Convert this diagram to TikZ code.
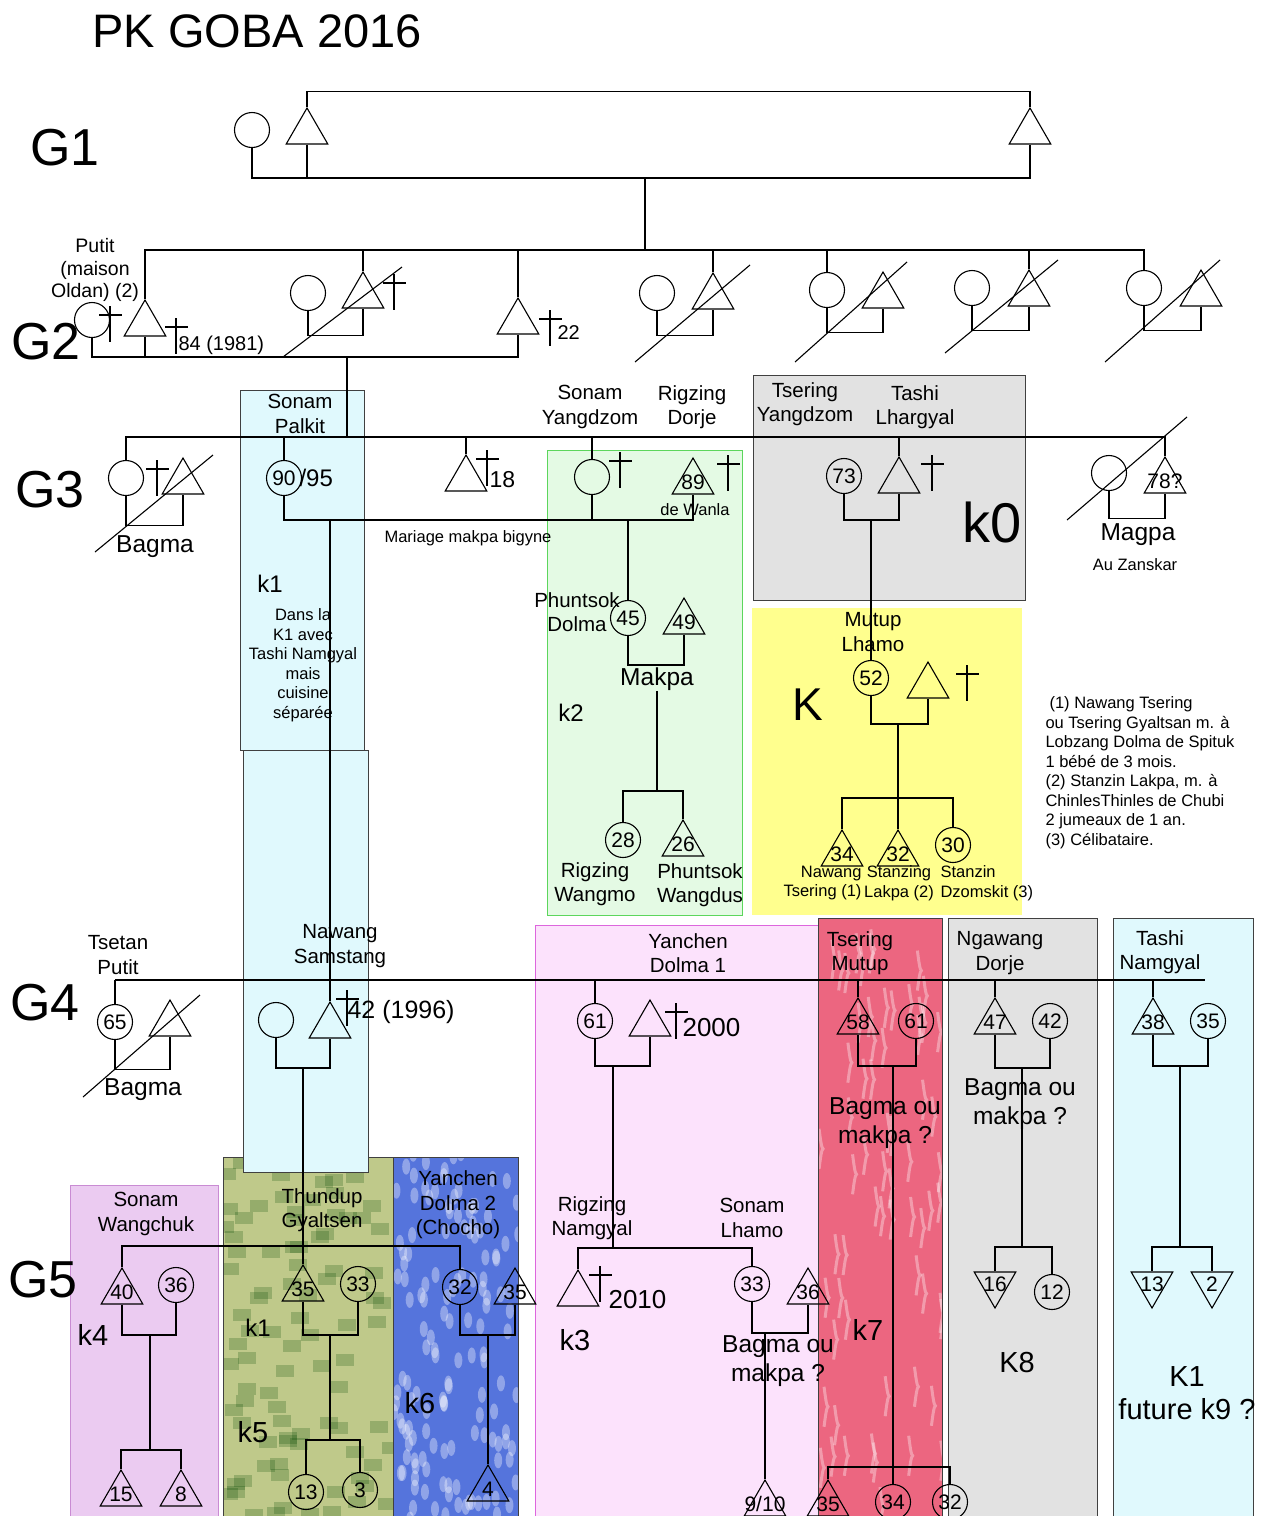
\documentclass[tikz,border=0pt]{standalone}
\usepackage{fontspec}
\setmainfont{Liberation Sans}
\usetikzlibrary{shapes.geometric}
\definecolor{cyanpale}{HTML}{E0F9FD}
\definecolor{vertpale}{HTML}{E4FAE4}
\definecolor{vertbord}{HTML}{5CD65C}
\definecolor{grispale}{HTML}{E2E2E2}
\definecolor{jaune}{HTML}{FFFF8E}
\definecolor{rosepale}{HTML}{FCE2FC}
\definecolor{rosebord}{HTML}{DD66DD}
\definecolor{lavande}{HTML}{EBCBF1}
\definecolor{lavbord}{HTML}{C98BD3}
\definecolor{rouge}{HTML}{EC6680}
\definecolor{kaki}{HTML}{BFC98A}
\definecolor{bleu}{HTML}{5574DC}
\newcommand{\nb}[1]{\makebox[0pt]{#1}}
\newcommand{\croix}[2]{\draw (#1,#2) -- ++(0,36) ++(-11,-27) -- ++(23,0);}
\begin{document}
\begin{tikzpicture}
[
    x=1pt, y=-1pt,
    line width=1.1pt,
    every node/.style={inner sep=0pt},
    femme/.style={draw, circle, minimum size=35pt, font=\fontsize{21}{21}\selectfont},
    homme/.style={draw, regular polygon, regular polygon sides=3, minimum size=48pt, font=\fontsize{21}{21}\selectfont},
    hommeinv/.style={homme, shape border rotate=180},
    nom/.style={align=center, font=\fontsize{20.5}{24.5}\selectfont},
    petit/.style={align=center, font=\fontsize{16.5}{19.5}\selectfont},
    moyen/.style={align=center, font=\fontsize{24.5}{29}\selectfont},
    maison/.style={align=center, font=\fontsize{29}{33}\selectfont},
    gen/.style={font=\fontsize{52}{56}\selectfont},
    boite/.style={draw=black!75, line width=1pt}
]
    \useasboundingbox (0,0) rectangle (1272,1516);
    \fill[white] (0,0) rectangle (1272,1516);
    \pgfmathsetseed{7}

    \draw[boite, fill=lavande, draw=lavbord] (70,1185) rectangle (218,1530);
    \fill[kaki] (223,1157) rectangle (393,1530);
    \begin{scope}
        \clip (223,1157) rectangle (393,1516);
        \foreach \i in {1,...,90} {
            \pgfmathsetmacro{\xa}{215+170*rnd}
            \pgfmathsetmacro{\ya}{1150+370*rnd}
            \fill[black!60!green!70!black, opacity=0.22] (\xa,\ya) rectangle ++(18,12);
        }
    \end{scope}
    \draw[boite] (223,1157) rectangle (393,1530);
    \fill[bleu] (393,1157) rectangle (518,1530);
    \begin{scope}
        \clip (393,1157) rectangle (518,1516);
        \foreach \i in {1,...,140} {
            \pgfmathsetmacro{\xa}{390+130*rnd}
            \pgfmathsetmacro{\ya}{1150+370*rnd}
            \fill[white, opacity=0.35] (\xa,\ya) ellipse (4pt and 8pt);
        }
    \end{scope}
    \draw[boite] (393,1157) rectangle (518,1530);
    \draw[boite, fill=cyanpale] (240,390) rectangle (364,750);
    \draw[boite, fill=cyanpale] (243,750) rectangle (368,1172);
    \draw[boite, fill=vertpale, draw=vertbord] (547,450) rectangle (742,915);
    \draw[boite, fill=grispale] (753,375) rectangle (1025,600);
    \fill[jaune] (752,608) rectangle (1022,915);
    \draw[boite, fill=rosepale, draw=rosebord] (535,925) rectangle (818,1530);
    \fill[rouge] (818,918) rectangle (942,1530);
    \begin{scope}
        \clip (818,918) rectangle (942,1516);
        \foreach \i in {1,...,70} {
            \pgfmathsetmacro{\xa}{812+134*rnd}
            \pgfmathsetmacro{\ya}{910+610*rnd}
            \draw[white, opacity=0.35, line width=3pt] (\xa,\ya) sin ++(4,20) cos ++(-4,20);
        }
    \end{scope}
    \draw[boite] (818,918) rectangle (942,1530);
    \draw[boite, fill=grispale] (948,918) rectangle (1097,1530);
    \draw[boite, fill=cyanpale] (1113,918) rectangle (1253,1530);

    \node[anchor=west, font=\fontsize{47}{50}\selectfont] (titre) at (92,31) {PK GOBA 2016};
    \node[gen] (gen1) at (65,148) {G1};
    \node[gen] (gen2) at (46,342) {G2};
    \node[gen] (gen3) at (50,490) {G3};
    \node[gen] (gen4) at (45,1003) {G4};
    \node[gen] (gen5) at (43,1280) {G5};

    \node[femme] (a1) at (252,130) {};
    \node[homme] (a2) at (307,132) {};
    \node[homme] (a3) at (1030,132) {};
    \coordinate (ma) at (645,178);
    \coordinate (sb) at (645,250);
    \draw (a2.north) -- ++(0,-15) -| (a3.north);
    \draw (a1.south) |- (ma) -| (a3.south);
    \draw (a2.south) -- (a2.south |- ma);
    \draw (ma) -- (sb);

    \node[femme] (b1) at (92,320) {};
    \node[homme] (b2) at (145,324) {};
    \node[femme] (b3) at (308,293) {};
    \node[homme] (b4) at (363,296) {};
    \node[homme] (b5) at (518,322) {};
    \node[femme] (b6) at (657,293) {};
    \node[homme] (b7) at (713,297) {};
    \node[femme] (b8) at (827,290) {};
    \node[homme] (b9) at (883,296) {};
    \node[femme] (b10) at (972,288) {};
    \node[homme] (b11) at (1029,294) {};
    \node[femme] (b12) at (1144,288) {};
    \node[homme] (b13) at (1201,294) {};
    \coordinate (mb) at (347,357);
    \coordinate (sc) at (347,437);
    \draw (b2.north) |- (sb) -| (b12.north);
    \foreach \n in {b4,b5,b7,b8,b11}
        \draw (\n.north) -- (\n.north |- sb);
    \draw (b1.south) |- (mb) -| (b5.south);
    \draw (b2.south) -- (b2.south |- mb);
    \draw (mb) -- (sc);
    \foreach \f/\h in {b3/b4,b6/b7,b8/b9,b10/b11,b12/b13}
        \draw (\f.south) -- ++(0,24) -| (\h.south);
    \draw (283,357) -- (402,267);
    \draw (635,362) -- (750,265);
    \draw (795,362) -- (907,262);
    \draw (945,353) -- (1058,260);
    \draw (1105,362) -- (1220,260);
    \croix{110}{306}
    \croix{176}{318}
    \croix{394}{274}
    \croix{550}{310}
    \node[align=center, font=\fontsize{19.5}{22.5}\selectfont] (putit) at (95,270) {Putit\\(maison\\Oldan) (2)};
    \node[anchor=west, font=\fontsize{20}{20}\selectfont] (d84) at (178,345) {84 (1981)};
    \node[anchor=west, font=\fontsize{20}{20}\selectfont] (d22) at (557,333) {22};

    \node[femme] (c1) at (126,478) {};
    \node[homme] (c2) at (183,482) {};
    \node[femme] (c3) at (284,478) {90};
    \node[homme] (c4) at (466,479) {};
    \node[femme] (c5) at (592,477) {};
    \node[homme] (c6) at (693,482) {\nb{89}};
    \node[femme] (c7) at (844,476) {73};
    \node[homme] (c8) at (899,481) {};
    \node[femme] (c9) at (1109,473) {};
    \node[homme] (c10) at (1165,481) {\nb{78?}};
    \draw (c1.north) |- (sc) -| (c10.north);
    \foreach \n in {c3,c4,c5,c8}
        \draw (\n.north) -- (\n.north |- sc);
    \coordinate (mc1) at (330,520);
    \coordinate (mc2) at (628,520);
    \coordinate (mc3) at (871,520);
    \draw (c3.south) |- (mc1) -- (mc2) -| (c6.south);
    \draw (c5.south) -- (c5.south |- mc1);
    \draw (c1.south) -- ++(0,29) -| (c2.south);
    \draw (c7.south) |- (mc3) -| (c8.south);
    \draw (c9.south) -- ++(0,27) -| (c10.south);
    \draw (95,552) -- (213,455);
    \draw (1067,520) -- (1187,417);
    \croix{157}{460}
    \croix{487}{450}
    \croix{620}{452}
    \croix{728}{455}
    \croix{932}{455}
    \node[moyen] (bagma1) at (155,547) {Bagma};
    \node[anchor=west, font=\fontsize{24}{24}\selectfont] (n95) at (299,478) {/95};
    \node[nom] (nsp) at (300,414) {Sonam\\Palkit};
    \node[anchor=west, font=\fontsize{23}{23}\selectfont] (n18) at (489,480) {18};
    \node[nom] (nsy) at (590,407) {Sonam\\Yangdzom};
    \node[nom] (nrd) at (692,407) {Rigzing\\Dorje};
    \node[petit] (wanla) at (695,510) {de Wanla};
    \node[petit] (mariage) at (468,538) {Mariage makpa bigyne};
    \node[nom] (nty) at (805,404) {Tsering\\Yangdzom};
    \node[nom] (ntl) at (915,407) {Tashi\\Lhargyal};
    \node[font=\fontsize{56}{56}\selectfont] (k0) at (992,522) {k0};
    \node[moyen] (magpa) at (1138,535) {Magpa};
    \node[petit] (zanskar) at (1135,565) {Au Zanskar};
    \node[font=\fontsize{24}{24}\selectfont] (k1a) at (270,584) {k1};
    \node[petit] (cuisine) at (303,665) {Dans la\\K1 avec\\Tashi Namgyal\\mais\\cuisine\\séparée};

    \node[femme] (d1) at (628,618) {45};
    \node[homme] (d2) at (684,622) {\nb{49}};
    \node[nom] (npd) at (577,612) {Phuntsok\\Dolma};
    \coordinate (md1) at (657,665);
    \draw (mc2) -- (d1.north);
    \draw (d1.south) |- (md1) -| (d2.south);
    \node[moyen] (makpa) at (657,679) {Makpa};
    \coordinate (md2) at (657,791);
    \draw (makpa.south) -- (md2);
    \node[femme] (d3) at (623,840) {28};
    \node[homme] (d4) at (683,844) {\nb{26}};
    \draw (d3.north) |- (md2) -| (d4.north);
    \node[nom] (nrw) at (595,884) {Rigzing\\Wangmo};
    \node[nom] (npw) at (700,885) {Phuntsok\\Wangdus};
    \node[font=\fontsize{24}{24}\selectfont] (k2) at (571,713) {k2};

    \node[nom] (nml) at (873,632) {Mutup\\Lhamo};
    \node[femme] (e1) at (871,678) {52};
    \node[homme] (e2) at (928,686) {};
    \croix{967}{665}
    \node[font=\fontsize{46}{46}\selectfont] (grandk) at (808,705) {K};
    \coordinate (me1) at (898,724);
    \coordinate (me2) at (898,798);
    \draw (mc3) -- (e1.north);
    \draw (e1.south) |- (me1) -| (e2.south);
    \node[homme] (e3) at (842,854) {\nb{34}};
    \node[homme] (e4) at (898,854) {\nb{32}};
    \node[femme] (e5) at (953,845) {30};
    \draw (e3.north) |- (me2) -| (e5.north);
    \draw (me1) -- (e4.north);
    \node[petit, align=right, anchor=east] (ne3) at (862,883) {Nawang\\Tsering (1)};
    \node[petit] (ne4) at (899,883) {Stanzing\\Lakpa (2)};
    \node[petit, align=left, anchor=west] (ne5) at (940,883) {Stanzin\\Dzomskit (3)};
    \node[petit, align=left, anchor=north west] (note) at (1045,696) {\hspace{4pt}(1) Nawang Tsering\\ou Tsering Gyaltsan m. à\\Lobzang Dolma de Spituk\\1 bébé de 3 mois.\\(2) Stanzin Lakpa, m. à\\ChinlesThinles de Chubi\\2 jumeaux de 1 an.\\(3) Célibataire.};

    \coordinate (sd1) at (115,980);
    \coordinate (sd2) at (1205,980);
    \draw (sd1) -- (sd2);
    \node[femme] (f1) at (115,1022) {65};
    \node[homme] (f2) at (170,1024) {};
    \draw (f1.north) -- (sd1);
    \draw (f1.south) -- ++(0,29) -| (f2.south);
    \draw (83,1097) -- (200,995);
    \node[nom] (ntp) at (118,955) {Tsetan\\Putit};
    \node[moyen] (bagma2) at (143,1090) {Bagma};

    \node[femme] (f3) at (276,1020) {};
    \node[homme] (f4) at (330,1026) {};
    \draw (mc1) -- (f4.north);
    \croix{347}{990}
    \node[anchor=west, font=\fontsize{25}{25}\selectfont] (n42) at (347,1012) {42 (1996)};
    \node[nom] (nns) at (340,946) {Nawang\\Samstang};
    \coordinate (mf1) at (303,1068);
    \draw (f3.south) |- (mf1) -| (f4.south);

    \node[femme] (f5) at (595,1021) {61};
    \node[homme] (f6) at (650,1024) {};
    \draw (f5.north) -- (f5.north |- sd1);
    \croix{676}{1003}
    \node[anchor=west, font=\fontsize{26}{26}\selectfont] (n2000) at (682,1028) {2000};
    \node[nom] (nyd1) at (688,953) {Yanchen\\Dolma 1};
    \coordinate (mf2) at (613,1066);
    \draw (f5.south) |- (mf2) -| (f6.south);

    \node[homme] (f7) at (858,1022) {\nb{58}};
    \node[femme] (f8) at (916,1021) {61};
    \draw (f7.north) -- (f7.north |- sd1);
    \node[nom] (ntm) at (860,953) {Tsering\\Mutup};
    \coordinate (mf3) at (893,1066);
    \draw (f7.south) |- (mf3) -| (f8.south);
    \node[moyen] (bm1) at (885,1123) {Bagma ou\\makpa ?};

    \node[homme] (f9) at (995,1022) {\nb{47}};
    \node[femme] (f10) at (1050,1021) {42};
    \draw (f9.north) -- (f9.north |- sd1);
    \node[nom] (nnd) at (1000,953) {Ngawang\\Dorje};
    \coordinate (mf4) at (1022,1068);
    \draw (f9.south) |- (mf4) -| (f10.south);
    \node[moyen] (bm2) at (1020,1104) {Bagma ou\\makpa ?};

    \node[homme] (f11) at (1153,1022) {\nb{38}};
    \node[femme] (f12) at (1208,1021) {35};
    \draw (f11.north) -- (f11.north |- sd1);
    \node[nom] (ntn) at (1160,952) {Tashi\\Namgyal};
    \coordinate (mf5) at (1180,1066);
    \draw (f11.south) |- (mf5) -| (f12.south);

    \coordinate (sg1) at (303,1246);
    \node[homme] (h1) at (122,1292) {\nb{40}};
    \node[femme] (h2) at (176,1285) {36};
    \node[homme] (h3) at (303,1289) {\nb{35}};
    \node[femme] (h4) at (358,1284) {33};
    \node[femme] (h5) at (460,1287) {32};
    \node[homme] (h6) at (515,1292) {\nb{35}};
    \draw (mf1) -- (h3.north);
    \draw (h1.north) |- (sg1) -| (h5.north);
    \coordinate (mh1) at (150,1335);
    \coordinate (mh2) at (150,1450);
    \draw (h1.south) |- (mh1) -| (h2.south);
    \draw (mh1) -- (mh2);
    \node[homme] (h7) at (121,1494) {\nb{15}};
    \node[homme] (h8) at (181,1494) {\nb{8}};
    \draw (h7.north) |- (mh2) -| (h8.north);
    \coordinate (mh3) at (330,1335);
    \coordinate (mh4) at (330,1440);
    \draw (h3.south) |- (mh3) -| (h4.south);
    \draw (mh3) -- (mh4);
    \node[femme] (h9) at (306,1492) {13};
    \node[femme] (h10) at (360,1490) {3};
    \draw (h9.north) |- (mh4) -| (h10.north);
    \coordinate (mh5) at (488,1335);
    \draw (h5.south) |- (mh5) -| (h6.south);
    \node[homme] (h11) at (488,1489) {\nb{4}};
    \draw (mh5) -- (h11.north);
    \node[nom] (nsw) at (146,1214) {Sonam\\Wangchuk};
    \node[nom] (ntg) at (322,1210) {Thundup\\Gyaltsen};
    \node[nom] (nyd2) at (458,1205) {Yanchen\\Dolma 2\\(Chocho)};
    \node[maison] (k4) at (93,1335) {k4};
    \node[font=\fontsize{24}{24}\selectfont] (k1b) at (258,1328) {k1};
    \node[maison] (k5) at (253,1432) {k5};
    \node[maison] (k6) at (420,1403) {k6};

    \coordinate (sg2) at (613,1248);
    \draw (mf2) -- (sg2);
    \node[homme] (h12) at (578,1294) {};
    \node[femme] (h13) at (752,1284) {33};
    \node[homme] (h14) at (808,1292) {\nb{36}};
    \draw (h12.north) |- (sg2) -| (h13.north);
    \croix{600}{1266}
    \node[anchor=west, font=\fontsize{26}{26}\selectfont] (n2010) at (608,1300) {2010};
    \node[nom] (nrn) at (592,1218) {Rigzing\\Namgyal};
    \node[nom] (nsl) at (752,1218) {Sonam\\Lhamo};
    \coordinate (mh6) at (765,1333);
    \draw (h13.south) |- (mh6) -| (h14.south);
    \node[homme] (h15) at (765,1504) {\nb{9/10}};
    \draw (mh6) -- (h15.north);
    \node[moyen] (bm3) at (778,1361) {Bagma ou\\makpa ?};
    \node[maison] (k3) at (575,1340) {k3};
    \node[maison] (k7) at (868,1330) {k7};

    \coordinate (mh7) at (893,1467);
    \node[homme] (h16) at (828,1504) {\nb{35}};
    \node[femme] (h17) at (893,1502) {34};
    \node[femme] (h18) at (950,1502) {32};
    \draw (h16.north) |- (mh7) -| (h18.north);
    \draw (mf3) -- (h17.north);

    \coordinate (mh8) at (1022,1247);
    \draw (mf4) -- (mh8);
    \node[hommeinv] (h19) at (995,1284) {\nb{16}};
    \node[femme] (h20) at (1052,1292) {12};
    \draw (h19.north) |- (mh8) -| (h20.north);
    \node[maison] (k8) at (1017,1362) {K8};

    \coordinate (mh9) at (1180,1247);
    \draw (mf5) -- (mh9);
    \node[hommeinv] (h21) at (1152,1284) {\nb{13}};
    \node[hommeinv] (h22) at (1212,1284) {\nb{2}};
    \draw (h21.north) |- (mh9) -| (h22.north);
    \node[maison] (k9) at (1187,1393) {K1\\future k9 ?};
\end{tikzpicture}
\end{document}
